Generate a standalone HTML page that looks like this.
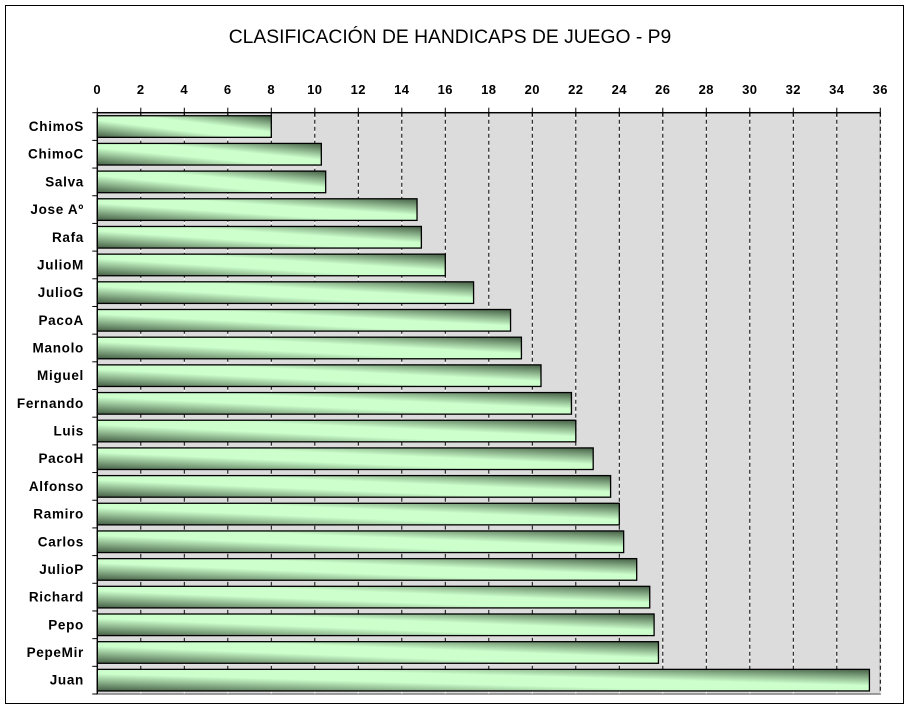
<!DOCTYPE html>
<html><head><meta charset="utf-8"><style>
html,body{margin:0;padding:0;background:#fff;}
svg{display:block;font-family:"Liberation Sans",Arial,sans-serif;}
</style></head><body>
<svg id="chart" width="910" height="709">
<defs>
<linearGradient id="barGrad" x1="0" y1="1" x2="1" y2="0">
<stop offset="0" stop-color="#445e44"/>
<stop offset="0.4" stop-color="#ccffcc"/>
<stop offset="0.62" stop-color="#ccffcc"/>
<stop offset="1" stop-color="#445e44"/>
</linearGradient>
</defs>
<rect x="5.5" y="5.5" width="898" height="698" fill="#fff" stroke="#000" stroke-width="1"/>
<text x="450" y="43" text-anchor="middle" font-size="19.3" fill="#000">CLASIFICACIÓN DE HANDICAPS DE JUEGO - P9</text>
<g id="plot"></g>
</svg>
<script>
const categories = ["ChimoS","ChimoC","Salva","Jose Aº","Rafa","JulioM","JulioG","PacoA","Manolo","Miguel","Fernando","Luis","PacoH","Alfonso","Ramiro","Carlos","JulioP","Richard","Pepo","PepeMir","Juan"];
const values = [8,10.3,10.5,14.7,14.9,16,17.3,19,19.5,20.4,21.8,22,22.8,23.6,24,24.2,24.8,25.4,25.6,25.8,35.5];
const ticks = [0,2,4,6,8,10,12,14,16,18,20,22,24,26,28,30,32,34,36];

const NS = "http://www.w3.org/2000/svg";
const L = 97.3, R = 880.3, T = 112.7, B = 694;
const xMax = 36;
const x = v => L + (v / xMax) * (R - L);
const band = (B - T) / categories.length;
const yc = i => T + band * i + band / 2;
const g = document.getElementById('plot');
function mk(tag, attrs) { const e = document.createElementNS(NS, tag); for (const k in attrs) e.setAttribute(k, attrs[k]); g.appendChild(e); return e; }

const bg = mk('rect', {x: L, y: T, width: R - L, height: B - T, fill: '#dcdcdc', stroke: '#808080', 'stroke-width': 1.5});



ticks.forEach((t, i) => {
  if (t > 0) {
    const gw = mk('line', {x1: x(t), x2: x(t), y1: T, y2: B, stroke: '#fff', 'stroke-width': 1});
    
    
    const gl = mk('line', {x1: x(t), x2: x(t), y1: T, y2: B, stroke: '#000', 'stroke-width': 1, 'stroke-dasharray': '4,3'});
    
    
  }
  const tk = mk('line', {x1: x(t), x2: x(t), y1: T - 5, y2: T + 4, stroke: '#000', 'stroke-width': 1});
  
  
  const tl = mk('text', {x: x(t), y: 94, 'text-anchor': 'middle', 'font-size': 13, 'font-weight': 'bold', 'letter-spacing': 0.5});
  tl.textContent = ticks[i];
  
  
});

categories.forEach((c, i) => {
  const h = 21.6;
  const bar = mk('rect', {x: x(0), y: yc(i) - h / 2, width: x(values[i]) - x(0), height: h, fill: 'url(#barGrad)', stroke: '#000', 'stroke-width': 1.3});
  
  
  const lab = mk('text', {x: 84, y: yc(i) + 4.5, 'text-anchor': 'end', 'font-size': 13.5, 'font-weight': 'bold', 'letter-spacing': 0.7});
  lab.textContent = c;
  
  
});
for (let i = 0; i <= categories.length; i++) {
  const yt = T + band * i;
  const tk = mk('line', {x1: L - 5, x2: L, y1: yt, y2: yt, stroke: '#000', 'stroke-width': 1});
  
  
}
const ax = mk('line', {x1: L, x2: R, y1: T, y2: T, stroke: '#000', 'stroke-width': 1.3});


const ay = mk('line', {x1: L, x2: L, y1: T, y2: B, stroke: '#000', 'stroke-width': 1.3});


</script>
</body></html>
